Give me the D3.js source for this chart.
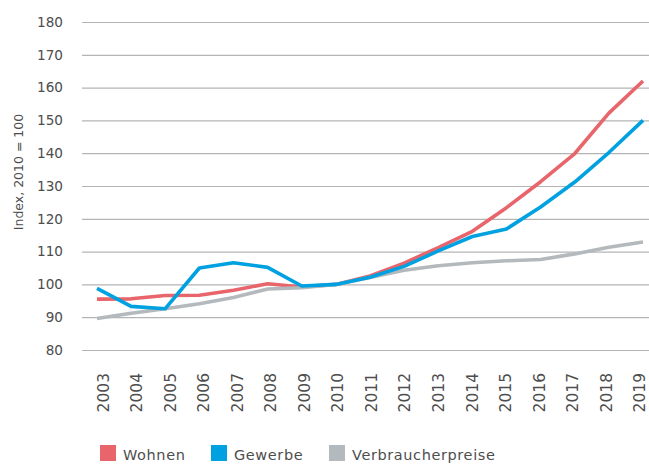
<!DOCTYPE html>
<html><head><meta charset="utf-8">
<script src="https://cdn.jsdelivr.net/npm/d3@7"></script>
<style>
html,body{margin:0;padding:0;background:#fff;}
svg text{font-family:"DejaVu Sans",sans-serif;fill:#4d4d4d;}
</style></head>
<body>
<svg id="chart" width="649" height="464"></svg>
<script>
const years = ["2003","2004","2005","2006","2007","2008","2009","2010","2011","2012","2013","2014","2015","2016","2017","2018","2019"];
const wohnen = [95.5,95.6,96.6,96.7,98.2,100.2,99.2,100,102.6,106.5,111.2,116.2,123.4,131.3,139.9,152.2,162.0];
const gewerbe = [98.8,93.3,92.6,105.0,106.6,105.2,99.5,100,102.2,105.5,110.2,114.6,116.9,123.6,131.2,140.2,150.0];
const verbraucher = [89.6,91.2,92.6,94.1,96.0,98.6,99.0,100,102.1,104.3,105.7,106.6,107.2,107.6,109.3,111.3,112.9];
const yTicks = [80,90,100,110,120,130,140,150,160,170,180];
const seriesNames = ["Wohnen","Gewerbe","Verbraucherpreise"];
const colors = ["#e8656b","#00a1e0","#b3b9bc"];
const yTitle = "Index, 2010 = 100";

const svg = d3.select("#chart");
const x = d3.scalePoint().domain(years).range([97,643]);
const xLab = d3.scalePoint().domain(years).range([103.5,640]);
const y = d3.scaleLinear().domain([80,180]).range([350,22]);

// grid
const yAxis = d3.axisLeft(y).tickValues(yTicks).tickSize(-(649-82)).tickPadding(18).tickFormat(d3.format("d"));
const gy = svg.append("g").attr("transform","translate(82,0)").call(yAxis);
gy.select(".domain").remove();
gy.selectAll(".tick line").attr("stroke","#b4b4b4").attr("stroke-width",1.2);
gy.selectAll(".tick text").attr("font-size","13.6px").attr("fill","#4d4d4d").attr("x",-19);

// x labels
const xAxis = d3.axisBottom(xLab).tickSize(0).tickPadding(0);
const gx = svg.append("g").attr("transform","translate(0,372)").call(xAxis);
gx.select(".domain").remove();
gx.selectAll(".tick text").attr("font-size","15.5px").attr("fill","#4d4d4d")
  .attr("transform","rotate(-90)").attr("text-anchor","end").attr("x",-1).attr("y",0).attr("dy","0.3em");

// y title
svg.append("text").attr("transform","translate(23,172) rotate(-90)")
  .attr("text-anchor","middle").attr("font-size","12.5px").text(yTitle);

// lines
const data = [wohnen, gewerbe, verbraucher];
const line = d3.line().x((d,i)=>x(years[i])).y(d=>y(d));
[0,2,1].forEach(k=>{
  svg.append("path").datum(data[k]).attr("d",line).attr("fill","none")
    .attr("stroke",colors[k]).attr("stroke-width",3.6).attr("stroke-linejoin","round");
});

// legend
const legX = [100,211,329];
const leg = svg.append("g");
seriesNames.forEach((n,i)=>{
  leg.append("rect").attr("x",legX[i]).attr("y",445).attr("width",16).attr("height",16).attr("fill",colors[i]);
  leg.append("text").attr("x",legX[i]+23).attr("y",460).attr("font-size","14.5px")
    .attr("letter-spacing","0.6px").text(n);
});
</script>
</body></html>
